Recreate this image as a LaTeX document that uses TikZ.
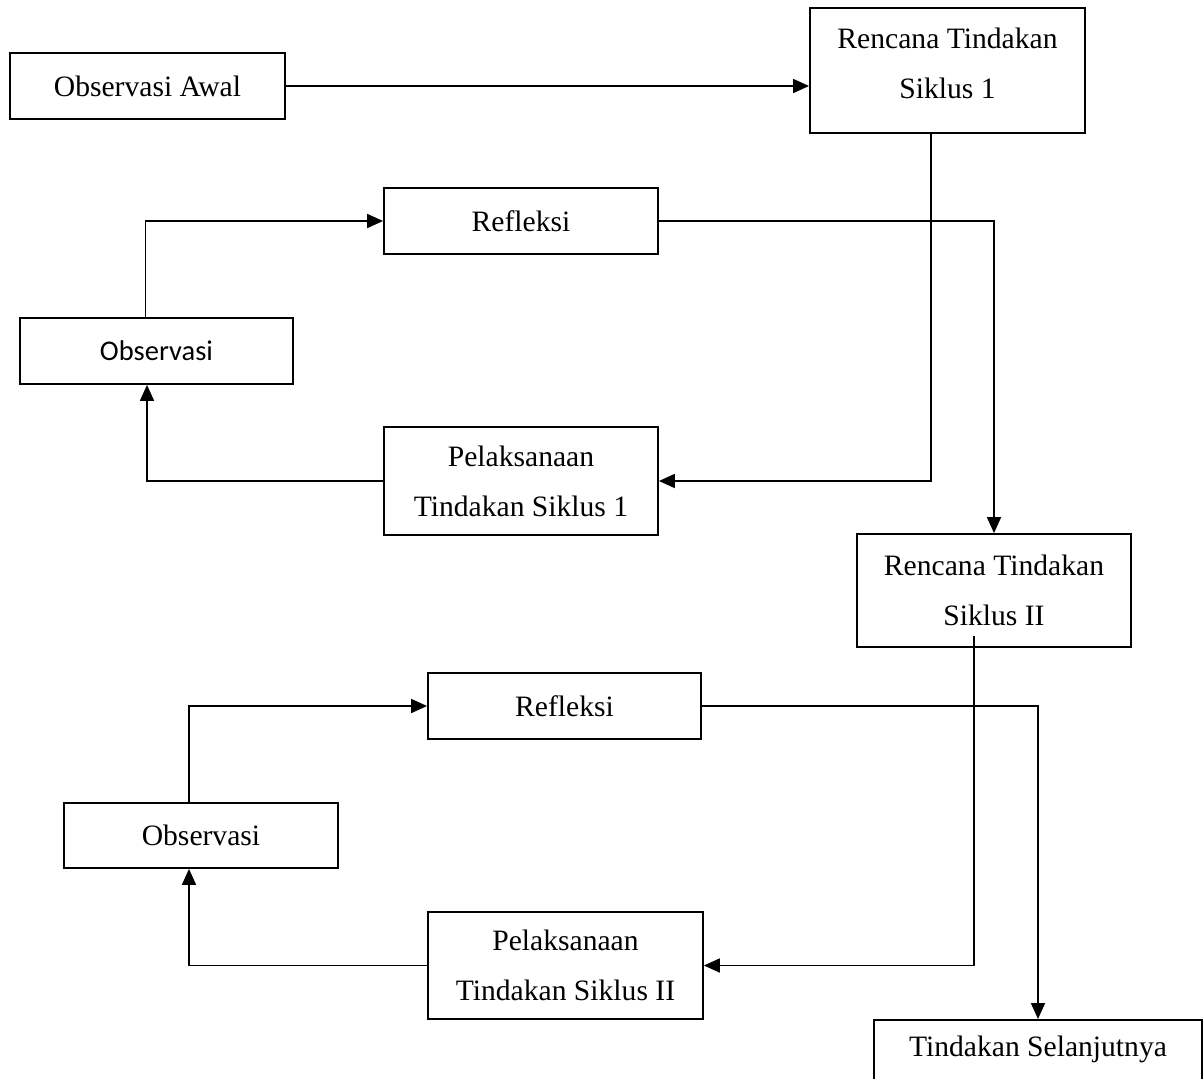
\documentclass[tikz,border=0pt]{standalone}
\usepackage{fontspec}
\setmainfont{Liberation Serif}
\newfontfamily\calib{Carlito}
\usetikzlibrary{arrows.meta,calc}
\begin{document}
\begin{tikzpicture}[x=1pt,y=-1pt,
  box/.style={draw=black,line width=1.8pt,inner sep=0pt,align=center,
    font=\fontsize{29.6}{50}\selectfont},
  arr/.style={line width=1.8pt,-{Triangle[length=16pt,width=14pt]}}]
\useasboundingbox (0,0) rectangle (1203,1079);
\clip (0,0) rectangle (1203,1079);
\fill[white] (0,0) rectangle (1203,1079);
% boxes
\node[box,minimum width=275pt,minimum height=66pt] (oa) at (147.5,86) {Observasi Awal};
\node[box,minimum width=275pt,minimum height=125pt] (r1) at (947.5,70.5)
  {\raisebox{7pt}[\height][\depth]{\begin{tabular}{@{}c@{}}Rencana Tindakan\\Siklus 1\end{tabular}}};
\node[box,minimum width=274pt,minimum height=66pt] (ref1) at (521,221) {Refleksi};
\node[box,minimum width=273pt,minimum height=66pt,font=\calib\fontsize{28.5}{50}\selectfont] (obs1) at (156.5,351) {Observasi};
\node[box,minimum width=274pt,minimum height=108pt] (pel1) at (521,481) {Pelaksanaan\\Tindakan Siklus 1};
\node[box,minimum width=274pt,minimum height=113pt] (r2) at (994,590.5) {Rencana Tindakan\\Siklus II};
\node[box,minimum width=273pt,minimum height=66pt] (ref2) at (564.5,706) {Refleksi};
\node[box,minimum width=274pt,minimum height=65pt] (obs2) at (201,835.5) {Observasi};
\node[box,minimum width=275pt,minimum height=107pt] (pel2) at (565.5,965.5) {Pelaksanaan\\Tindakan Siklus II};
\node[box,anchor=north,minimum width=328pt,inner ysep=16pt,text depth=40pt] (ts) at (1038,1019) {Tindakan Selanjutnya};
% connectors
\draw[arr] (oa.east) -- (oa.east -| r1.west);
\draw[arr] ([xshift=-16.5pt]r1.south) |- (pel1.east);
\draw[arr] (pel1.west) -| ([xshift=-9.5pt]obs1.south);
\draw[arr] ([xshift=-11pt]obs1.north) |- (ref1.west);
\draw[arr] (ref1.east) -| (r2.north);
\draw[arr] ([xshift=-20pt,yshift=12pt]r2.south) |- (pel2.east);
\draw[arr] (pel2.west) -| ([xshift=-12pt]obs2.south);
\draw[arr] ([xshift=-12pt]obs2.north) |- (ref2.west);
\draw[arr] (ref2.east) -| (ts.north);
\end{tikzpicture}
\end{document}
